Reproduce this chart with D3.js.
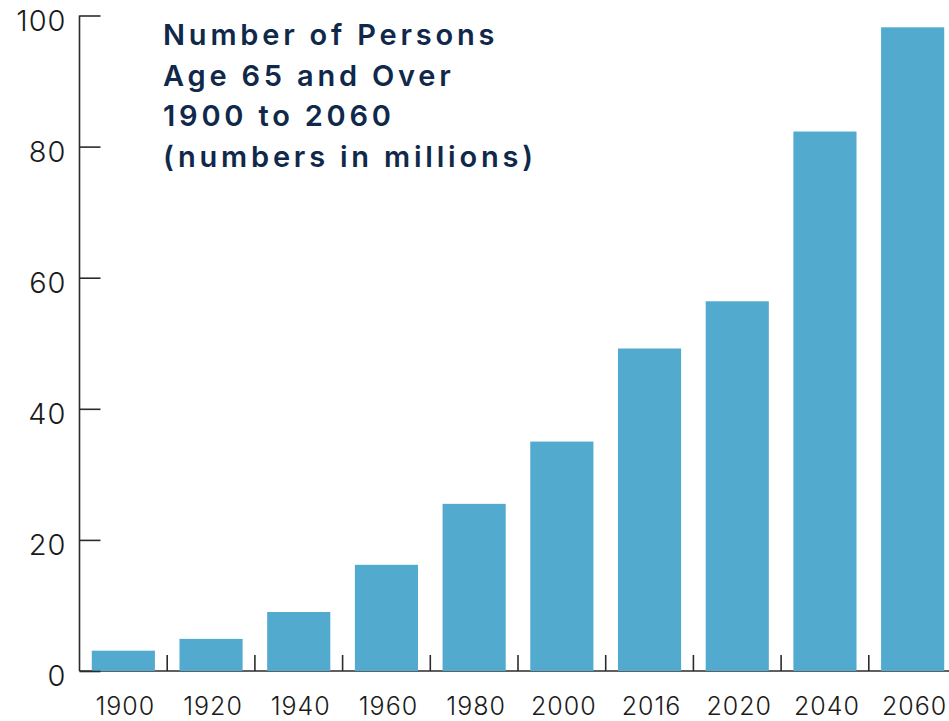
<!DOCTYPE html>
<html>
<head>
<meta charset="utf-8">
<script src="https://cdn.jsdelivr.net/npm/d3@7"></script>
<style>
  html, body { margin: 0; padding: 0; background: #fff; }
  svg { display: block; }
</style>
</head>
<body>
<svg id="chart" width="949" height="721"></svg>
<script>
// Persons aged 65 and over, in millions
const years = ["1900", "1920", "1940", "1960", "1980", "2000", "2016", "2020", "2040", "2060"];
const persons = [3.1, 4.9, 9.0, 16.2, 25.5, 35.0, 49.2, 56.4, 82.3, 98.2];
const yTicks = [0, 20, 40, 60, 80, 100];
const titleLines = ["Number of Persons", "Age 65 and Over", "1900 to 2060", "(numbers in millions)"];

const svg = d3.select("#chart");
const W = 949;
const axisX = 79.5, baseY = 671, topY = 15.5;

const x = d3.scaleBand()
  .domain(years)
  .range([axisX, axisX + 877])
  .paddingInner(0.28)
  .paddingOuter(0.14);

const y = d3.scaleLinear().domain([0, 100]).range([baseY, topY]);

const axisColor = "#2b2b2b";
const labelFont = "Inter, 'Open Sans', sans-serif";

// baseline
svg.append("line")
  .attr("x1", axisX).attr("x2", W)
  .attr("y1", baseY).attr("y2", baseY)
  .attr("stroke", axisColor).attr("stroke-width", 1.6);

// bars
svg.append("g").selectAll("rect")
  .data(years)
  .join("rect")
  .attr("x", d => x(d))
  .attr("width", x.bandwidth())
  .attr("y", (d, i) => y(persons[i]))
  .attr("height", (d, i) => y(0) - y(persons[i]))
  .attr("fill", "#52abce");

// category separators rising from the baseline
const step = x.step();
svg.append("g").selectAll("line")
  .data(years.slice(1))
  .join("line")
  .attr("x1", d => x(d) - step * x.paddingInner() / 2)
  .attr("x2", d => x(d) - step * x.paddingInner() / 2)
  .attr("y1", baseY)
  .attr("y2", baseY - 16)
  .attr("stroke", axisColor).attr("stroke-width", 1.6);

// year labels
svg.append("g").selectAll("text")
  .data(years)
  .join("text")
  .attr("x", d => x(d) + x.bandwidth() / 2 + 2)
  .attr("y", 715)
  .attr("text-anchor", "middle")
  .attr("font-family", labelFont)
  .attr("font-weight", 300)
  .attr("font-size", 25)
  .attr("letter-spacing", 1)
  .attr("fill", "#1a1a1a")
  .text(d => d);

// y axis with ticks pointing into the plot
const yAxis = d3.axisRight(y)
  .tickValues(yTicks)
  .tickSize(21)
  .tickFormat(d3.format("d"));

const gy = svg.append("g")
  .attr("transform", `translate(${axisX},0)`)
  .call(yAxis);
gy.select(".domain")
  .attr("d", `M0,${topY}V${baseY}`)
  .attr("stroke", axisColor).attr("stroke-width", 1.6);
gy.selectAll(".tick line").attr("stroke", axisColor).attr("stroke-width", 1.6);
gy.selectAll(".tick text")
  .attr("x", -13)
  .attr("dy", "0.5em")
  .attr("text-anchor", "end")
  .attr("font-family", labelFont)
  .attr("font-weight", 300)
  .attr("font-size", 29)
  .attr("letter-spacing", 1)
  .attr("fill", "#1a1a1a");

// title block
svg.append("g").selectAll("text")
  .data(titleLines)
  .join("text")
  .attr("x", 163)
  .attr("y", (d, i) => 45 + i * 40.5)
  .attr("font-family", labelFont)
  .attr("font-weight", 600)
  .attr("font-size", 29)
  .attr("letter-spacing", 3.8)
  .attr("fill", "#10294a")
  .text(d => d);
</script>
</body>
</html>
